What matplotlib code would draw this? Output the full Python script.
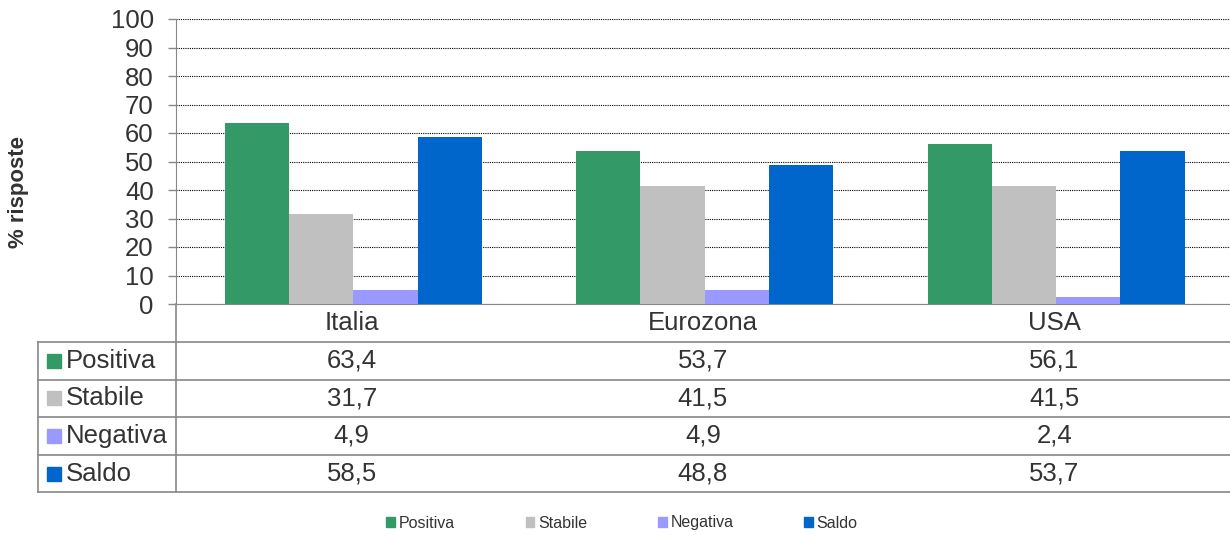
import matplotlib.pyplot as plt
import numpy as np

# Data
categories = ['Italia', 'Eurozona', 'USA']
series = ['Positiva', 'Stabile', 'Negativa', 'Saldo']
positiva = [63.4, 53.7, 56.1]
stabile = [31.7, 41.5, 41.5]
negativa = [4.9, 4.9, 2.4]
saldo = [58.5, 48.8, 53.7]
colors = ['#339966', '#C0C0C0', '#9999FF', '#0066CC']
values = [positiva, stabile, negativa, saldo]

plt.rcParams['font.family'] = ['Liberation Sans', 'DejaVu Sans']
txt = '#333333'
line_c = '#888888'
fs = 18.5

W, H = 1230, 535
fig = plt.figure(figsize=(W / 100, H / 100), dpi=100)
ax = fig.add_axes([176 / W, 1 - 304 / H, (1230 - 176) / W, 285 / H])

x = np.arange(len(categories))
bw = 0.183
for i, (name, vals) in enumerate(zip(series, values)):
    ax.bar(x + (i - 1.5) * bw + 0.005, vals, bw, color=colors[i], label=name, zorder=3)

ax.set_xlim(-0.5, 2.5)
ax.set_ylim(0, 100)
ax.set_yticks(range(0, 101, 10))
ax.tick_params(axis='y', labelsize=fs, colors=txt, length=6, width=1, color=line_c, pad=10)
ax.tick_params(axis='x', bottom=False, labelbottom=False)
ax.grid(axis='y', color='black', linestyle=(0, (1, 1)), linewidth=0.8, zorder=0)
for s in ['top', 'right']:
    ax.spines[s].set_visible(False)
ax.spines['left'].set_color(line_c)
ax.spines['bottom'].set_color(line_c)
ax.spines['left'].set_bounds(0, 100)

# data table below the axes (y in axes fraction)
row_h = 37.7 / 285
trans = ax.get_xaxis_transform()
# header with category labels
for xi, c in zip(x, categories):
    ax.text(xi, -row_h / 2, c, transform=trans, ha='center', va='center',
            fontsize=fs, color=txt, clip_on=False)

left_x = 38 / W
ax_left = 176 / W
for r, (name, vals) in enumerate(zip(series, values)):
    yc = -row_h * (r + 1.5)
    for xi, v in zip(x, vals):
        ax.text(xi, yc, f'{v:.1f}'.replace('.', ','), transform=trans, ha='center',
                va='center', fontsize=fs, color=txt, clip_on=False)
    fy = 1 - (342 + 37.6 * (r + 0.5)) / H
    fig.patches.append(plt.Rectangle((47 / W, fy - 7 / H), 14 / W, 14 / H,
                                     transform=fig.transFigure, color=colors[r]))
    fig.text(66 / W, fy, name, ha='left', va='center', fontsize=fs, color=txt)

# table lines
for r in range(5):
    fy = 1 - (342 + 37.6 * r) / H
    fig.add_artist(plt.Line2D([left_x, 1], [fy, fy], color=line_c, lw=1.2))
fig.add_artist(plt.Line2D([left_x, left_x], [1 - 342 / H, 1 - 492 / H], color=line_c, lw=1.2))
fig.add_artist(plt.Line2D([ax_left, ax_left], [1 - 304 / H, 1 - 492 / H], color=line_c, lw=1.2))

fig.text(19 / W, 1 - 192 / H, '% risposte', rotation=90, ha='center', va='center',
         fontsize=16, fontweight='bold', color=txt)

handles = [plt.Rectangle((0, 0), 1, 1, color=c) for c in colors]
fig.legend(handles, series, loc='center', bbox_to_anchor=(622 / W, 1 - 523 / H), ncol=4,
           frameon=False, fontsize=11.5, handlelength=0.55, handleheight=0.55,
           handletextpad=0.25, columnspacing=4.4, labelcolor=txt)

fig.savefig('out.png', dpi=100)
